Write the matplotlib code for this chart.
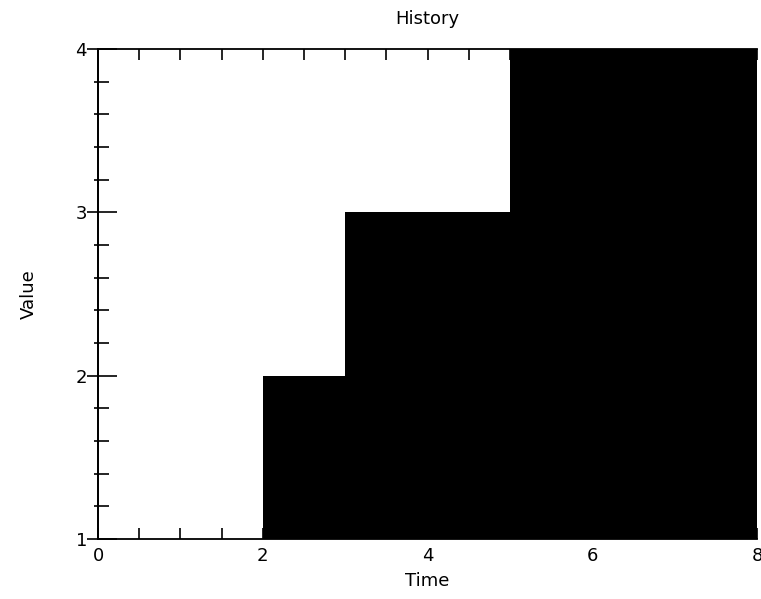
import matplotlib
matplotlib.use("Agg")
import matplotlib.pyplot as plt
from matplotlib.ticker import MultipleLocator

# Step history: value held from each time until the next one
times = [0, 1, 2, 3, 4, 5, 6, 7, 8]
values = [1, 1, 2, 3, 3, 4, 4, 4, 4]

x_ticks = [0, 2, 4, 6, 8]
y_ticks = [1, 2, 3, 4]

plt.rcParams["font.family"] = ["DejaVu Sans"]
FS = 13

fig = plt.figure(figsize=(7.61, 5.99), dpi=100)
ax = fig.add_axes([98 / 761, 1 - 539 / 599, (757 - 98) / 761, (539 - 49) / 599])

ax.fill_between(times, 1, values, step="post", color="black", linewidth=0)

ax.set_xlim(0, 8)
ax.set_ylim(1, 4)
ax.set_xticks(x_ticks)
ax.set_yticks(y_ticks)
ax.xaxis.set_minor_locator(MultipleLocator(0.5))
ax.yaxis.set_minor_locator(MultipleLocator(0.2))

# x ticks: short, inward, on bottom and top
ax.tick_params(axis="x", which="both", direction="in", length=8, width=1.2,
               top=True, bottom=True, pad=6, labelsize=FS)
# y ticks: inward part here, outward part on the secondary axis below
ax.tick_params(axis="y", which="major", direction="in", length=14, width=1.2,
               left=True, right=False, labelleft=False)
ax.tick_params(axis="y", which="minor", direction="in", length=8, width=1.2,
               left=True, right=False)

ay = ax.secondary_yaxis("left")
ay.set_yticks(y_ticks)
ay.yaxis.set_minor_locator(MultipleLocator(0.2))
ay.tick_params(axis="y", which="major", direction="out", length=8, width=1.2,
               pad=0, labelsize=FS)
ay.tick_params(axis="y", which="minor", direction="out", length=3, width=1.2)
ay.spines["left"].set_linewidth(1.3)

for s in ax.spines.values():
    s.set_linewidth(1.3)
ax.spines["right"].set_visible(False)

ax.set_title("History", fontsize=FS, pad=18)
ax.set_xlabel("Time", fontsize=FS, labelpad=5)
ay.set_ylabel("Value", fontsize=FS, labelpad=27)

fig.savefig("out.png", dpi=100, facecolor="white")
